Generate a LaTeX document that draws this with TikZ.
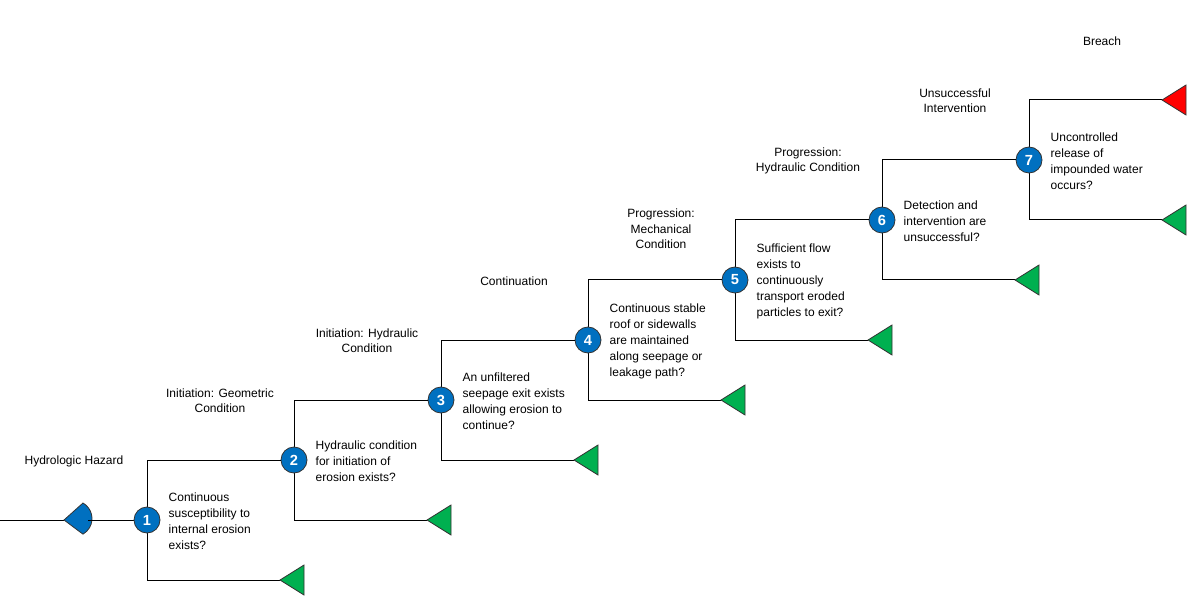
\documentclass[tikz,border=0pt]{standalone}
\usepackage{fontspec}
\setmainfont{Liberation Sans}
\begin{document}
\begin{tikzpicture}[x=0.75pt,y=-0.75pt,
  ev/.style={circle,fill=evblue,draw=black!80,line width=0.6pt,minimum size=26*0.75pt,inner sep=0pt,text=white,font=\bfseries\fontsize{11}{12}\selectfont},
  q/.style={anchor=west,align=left,font=\fontsize{9}{12}\selectfont},
  lab/.style={align=center,font=\fontsize{9}{11.5}\selectfont},
  ln/.style={line width=0.75pt,black}]
\definecolor{evblue}{HTML}{0070C0}
\definecolor{evgreen}{HTML}{00B050}
\useasboundingbox (0,0) rectangle (1199,602);
% start line and hazard
\coordinate (s) at (0,520);
\coordinate (h) at (64,520);
\draw[ln] (s) -- (h);
\draw[fill=evblue,draw=black!80,line width=0.6pt] (64,520) -- (83,503) arc[start angle=60,end angle=-60,radius=18*0.75pt] -- cycle;
\draw[ln] (88,520) -- (134,520);
% events
\foreach \i/\xx/\yy in {1/147/520,2/294/460,3/441/400,4/588/340,5/735/280,6/882/220,7/1029/160}{
  \coordinate (t\i) at (\xx,\yy-60);
  \coordinate (b\i) at (\xx,\yy+60);
  \draw[ln] (t\i) -- (b\i);
  \coordinate (g\i) at (\xx+133,\yy+60);
  \draw[ln] (b\i) -- (g\i);
  \node[ev] (e\i) at (\xx,\yy) {\i};
}
\foreach \i/\j in {1/2,2/3,3/4,4/5,5/6,6/7}{\draw[ln] (t\i) -- (e\j);}
\coordinate (r7) at (1162,100);
\draw[ln] (t7) -- (r7);
% triangles
\foreach \i in {1,...,7}{
  \draw[fill=evgreen,draw=black!80,line width=0.6pt] (g\i) -- ++(24,-15) -- ++(0,30) -- cycle;}
\draw[fill=red,draw=black!80,line width=0.6pt] (r7) -- ++(24,-15) -- ++(0,30) -- cycle;
% questions
\node[q] at (147+17,521) {Continuous\\susceptibility to\\internal erosion\\exists?};
\node[q] at (294+17,461) {Hydraulic condition\\for initiation of\\erosion exists?};
\node[q] at (441+17,401) {An unfiltered\\seepage exit exists\\allowing erosion to\\continue?};
\node[q] at (588+17,341) {Continuous stable\\roof or sidewalls\\are maintained\\along seepage or\\leakage path?};
\node[q] at (735+17,281) {Sufficient flow\\exists to\\continuously\\transport eroded\\particles to exit?};
\node[q] at (882+17,221) {Detection and\\intervention are\\unsuccessful?};
\node[q] at (1029+17,161) {Uncontrolled\\release of\\impounded water\\occurs?};
% labels
\node[lab] at (74,461) {Hydrologic Hazard};
\node[lab] at (220,401) {Initiation: Geometric\\Condition};
\node[lab] at (367,341) {Initiation: Hydraulic\\Condition};
\node[lab] at (514,281) {Continuation};
\node[lab] at (661,229) {Progression:\\Mechanical\\Condition};
\node[lab] at (808,161) {Progression:\\Hydraulic Condition};
\node[lab] at (955,101) {Unsuccessful\\Intervention};
\node[lab] at (1102,41) {Breach};
\end{tikzpicture}
\end{document}
